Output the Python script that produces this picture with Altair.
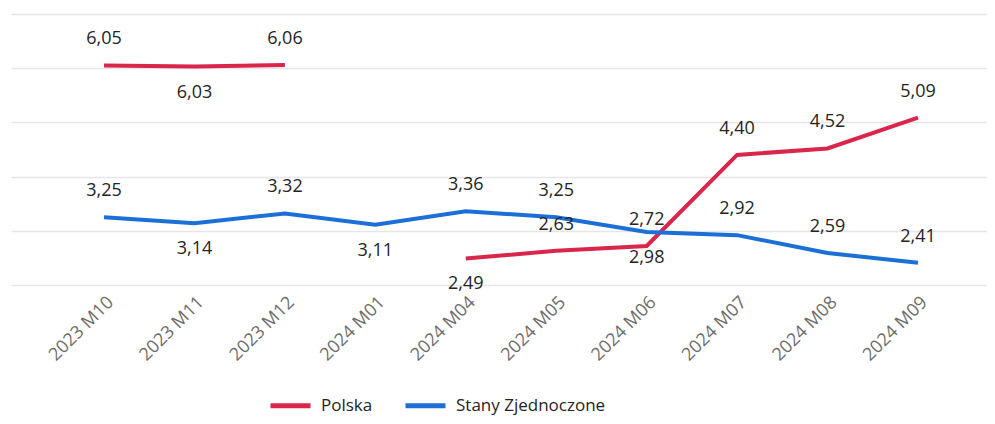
import altair as alt
import pandas as pd

months = ["2023 M10", "2023 M11", "2023 M12", "2024 M01", "2024 M04",
          "2024 M05", "2024 M06", "2024 M07", "2024 M08", "2024 M09"]
series = ["Polska", "Stany Zjednoczone"]
polska = [6.05, 6.03, 6.06, None, 2.49, 2.63, 2.72, 4.40, 4.52, 5.09]
usa = [3.25, 3.14, 3.32, 3.11, 3.36, 3.25, 2.98, 2.92, 2.59, 2.41]
# where each data label sits relative to its point
polska_side = ["above", "below", "above", None, "below", "above", "above", "above", "above", "above"]
usa_side = ["above", "below", "above", "below", "above", "above", "below", "above", "above", "above"]
colors = ["#D9264A", "#1B6FD6"]

rows = []
for name, vals, sides in [(series[0], polska, polska_side), (series[1], usa, usa_side)]:
    for m, v, s in zip(months, vals, sides):
        rows.append({"month": m, "series": name, "value": v, "side": s})
df = pd.DataFrame(rows)

x = alt.X("month:N", sort=months, title=None,
          scale=alt.Scale(type="point", padding=0.896, align=0.574),
          axis=alt.Axis(labelAngle=-45, labelFontSize=18, labelColor="#6E6C6A",
                        domain=False, ticks=False, labelPadding=8, grid=False))
y = alt.Y("value:Q", title=None, scale=alt.Scale(domain=[2, 7], nice=False, zero=False),
          axis=alt.Axis(values=[2, 3, 4, 5, 6, 7], labels=False, ticks=False, domain=False,
                        grid=True, gridColor="#E6E6E6", gridWidth=1.5))
color = alt.Color("series:N", title=None,
                  scale=alt.Scale(domain=series, range=colors),
                  legend=alt.Legend(orient="none", direction="horizontal", legendX=257, legendY=369,
                                    symbolType="stroke", symbolSize=1600, symbolStrokeWidth=5,
                                    labelFontSize=17, labelColor="#252423", labelOffset=8,
                                    columnPadding=22, padding=0))

base = alt.Chart(df)
lines = base.mark_line(strokeWidth=4, invalid="break-paths-show-domains").encode(x=x, y=y, color=color)

lab = base.transform_filter("datum.value != null").transform_calculate(
    label="replace(format(datum.value, '.2f'), '.', ',')")
above = lab.transform_filter("datum.side == 'above'").mark_text(
    dy=-26, fontSize=18, color="#252423").encode(x=x, y=y, text="label:N")
below = lab.transform_filter("datum.side == 'below'").mark_text(
    dy=26, fontSize=18, color="#252423").encode(x=x, y=y, text="label:N")

chart = alt.layer(lines, above, below).properties(
    width=976, height=271,
    autosize=alt.AutoSizeParams(type="none"),
    padding={"left": 3, "top": 6, "right": 0, "bottom": 131},
).configure(font="Segoe UI, Open Sans, Noto Sans").configure_view(stroke=None)

chart.save("out.html", embed_options={"renderer": "svg", "actions": False})
